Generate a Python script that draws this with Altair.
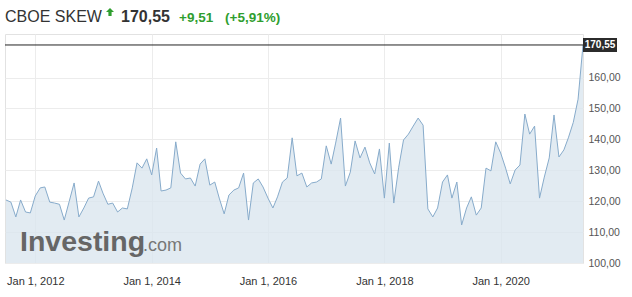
import altair as alt
import pandas as pd

# ---- data ----
title_text = "CBOE SKEW"
start_month = "2011-07-01"
skew_values = [
    120.4, 119.7, 114.9, 120.4, 116.5, 116.2, 121.7, 124.3, 124.6, 119.7,
    119.4, 119.0, 113.9, 119.9, 125.9, 114.9, 117.8, 121.0, 121.4, 126.5,
    122.6, 119.0, 119.4, 116.5, 117.8, 117.5, 124.3, 132.4, 130.7, 133.7,
    128.5, 137.2, 123.3, 123.6, 124.3, 139.2, 129.1, 127.2, 127.5, 124.9,
    132.0, 133.7, 125.2, 126.2, 121.0, 115.9, 122.0, 123.6, 124.3, 129.1,
    113.9, 125.9, 127.2, 124.6, 121.0, 117.8, 121.4, 126.2, 127.5, 140.5,
    128.2, 129.1, 124.6, 125.9, 126.2, 127.2, 137.9, 132.0, 138.8, 146.9,
    124.9, 129.4, 139.5, 134.0, 137.5, 132.4, 128.8, 136.9, 121.0, 138.8,
    119.4, 131.0, 139.8, 141.7, 144.3, 146.9, 144.6, 117.5, 114.9, 117.8,
    126.2, 128.5, 121.0, 126.2, 112.3, 117.8, 121.4, 115.5, 117.8, 130.7,
    129.8, 139.2, 135.6, 130.7, 125.6, 130.1, 131.7, 148.2, 141.7, 144.3,
    121.0, 127.8, 134.0, 147.9, 134.3, 136.6, 140.5, 145.5, 153.0, 170.55,
]
last_value = 170.55
change_abs = "+9,51"
change_pct = "(+5,91%)"
y_ticks = [100, 110, 120, 130, 140, 150, 160]
x_tick_years = [2012, 2014, 2016, 2018, 2020]

dates = pd.date_range(start_month, periods=len(skew_values), freq="MS")
df = pd.DataFrame({"date": dates, "skew": skew_values})
last_label = f"{last_value:.2f}".replace(".", ",")

FONT = "Liberation Sans"
W, H = 578, 229

y_scale = alt.Scale(domain=[100, 174.1], nice=False, zero=False)
x_scale = alt.Scale(domain=[alt.DateTime(year=2011, month=6, date=25),
                            alt.DateTime(year=2021, month=6, date=1)])

x_axis = alt.Axis(
    values=[alt.DateTime(year=y, month=1, date=1) for y in x_tick_years],
    format="%b %-d, %Y", title=None, grid=True, gridColor="#ececec",
    ticks=False, domain=False, labelFont=FONT, labelFontSize=11,
    labelColor="#333333", labelPadding=12, labelOverlap=False,
)
y_axis = alt.Axis(
    values=y_ticks, orient="right", title=None, grid=True, gridColor="#ececec",
    ticks=False, domain=False, labelFont=FONT, labelFontSize=10.5,
    labelColor="#555555", labelPadding=5, labelOverlap=False,
    labelExpr="replace(format(datum.value, '.2f'), '.', ',')",
)


def X(field):
    return alt.X(field, scale=x_scale, axis=x_axis)


def Y(field):
    return alt.Y(field, scale=y_scale, axis=y_axis)


area = alt.Chart(df).mark_area(color="#dbe6ef", opacity=0.8).encode(
    x=X("date:T"), y=Y("skew:Q"), y2=alt.datum(100),
)
line = alt.Chart(df).mark_line(color="#87abcb", strokeWidth=1).encode(
    x=X("date:T"), y=Y("skew:Q"),
)

last_df = pd.DataFrame({"v": [last_value], "label": [last_label]})
rule = alt.Chart(last_df).mark_rule(color="#222222", strokeWidth=1).encode(
    y=Y("v:Q"),
)
box = alt.Chart(last_df).mark_point(
    shape="M-1,-0.41H1V0.41H-1Z", filled=True, color="#2b2b2b",
    size=1156, opacity=1, strokeWidth=0,
).encode(x=alt.value(595), y=Y("v:Q"))
box_text = alt.Chart(last_df).mark_text(
    color="white", fontWeight="bold", fontSize=10, font=FONT,
    align="center", baseline="middle",
).encode(x=alt.value(595), y=Y("v:Q"), text="label:N")


def header(txt, x, size, color, weight="normal", y=-12):
    return alt.Chart(pd.DataFrame({"t": [txt]})).mark_text(
        font=FONT, fontSize=size, color=color, fontWeight=weight,
        align="left", baseline="alphabetic",
    ).encode(x=alt.value(x), y=alt.value(y), text="t:N")


h1 = header(title_text, 0, 16, "#333333")
h2 = header(last_label, 116, 16, "#333333", "bold")
h3 = header(change_abs, 174, 13.5, "#2f9e2f", "bold")
h4 = header(change_pct, 220, 13.5, "#2f9e2f", "bold")
arrow = alt.Chart(pd.DataFrame({"a": [1]})).mark_point(
    shape="M0,-1L1,0H0.4V1H-0.4V0H-1Z", filled=True, color="#2f9e2f",
    size=64, opacity=1, strokeWidth=0,
).encode(x=alt.value(105), y=alt.value(-22))

wm1 = header("Investing", 15, 28.5, "#666666", "bold", y=217)
wm2 = header(".com", 138, 18, "#777777", "normal", y=217)

chart = alt.layer(area, line, rule, box, box_text, h1, arrow, h2, h3, h4, wm1, wm2).properties(
    width=W, height=H,
    autosize=alt.AutoSizeParams(type="none"),
    padding={"left": 5, "top": 34, "right": 49, "bottom": 34},
    background="white",
).configure_view(stroke="#e2e2e2")

chart.save("out.html", embed_options={"renderer": "svg", "actions": False})
